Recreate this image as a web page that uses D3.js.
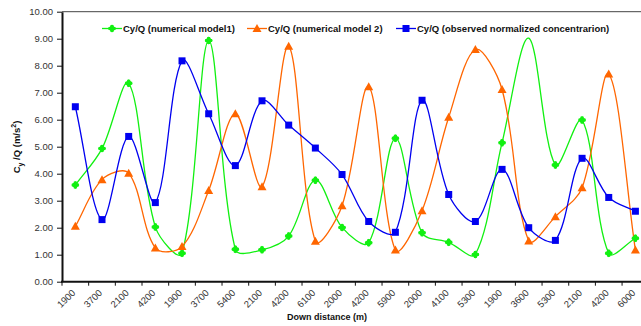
<!DOCTYPE html>
<html>
<head>
<meta charset="utf-8">
<script src="https://cdn.jsdelivr.net/npm/d3@7"></script>
<style>
  body { margin: 0; background: #fff; }
  svg { display: block; font-family: "Liberation Sans", Arial, sans-serif; }
</style>
</head>
<body>
<div id="chart"></div>
<script>
const distances = ['1900', '3700', '2100', '4200', '1900', '3700', '5400', '2100', '4200', '6100', '2000',
  '4200', '5900', '2000', '4100', '5300', '1900', '3600', '5300', '2100', '4200', '6000'];

const model1 = [3.58, 4.93, 7.35, 2.03, 1.05, 8.93, 1.2, 1.18, 1.69, 3.76, 2.01,
  1.44, 5.31, 1.81, 1.46, 1.01, 5.15, 9.02, 4.32, 5.99, 1.05, 1.61];
const model2 = [2.05, 3.78, 4.02, 1.25, 1.3, 3.38, 6.22, 3.52, 8.72, 1.5, 2.81,
  7.22, 1.17, 2.63, 6.09, 8.6, 7.12, 1.51, 2.41, 3.48, 7.69, 1.17];
const observed = [6.48, 2.3, 5.38, 2.93, 8.18, 6.22, 4.3, 6.7, 5.8, 4.95, 3.97,
  2.23, 1.83, 6.72, 3.23, 2.23, 4.16, 2.0, 1.53, 4.57, 3.12, 2.61];

const yTicks = [0, 1, 2, 3, 4, 5, 6, 7, 8, 9, 10];

const series = [
  { name: 'Cy/Q (numerical model1)', values: model1, color: '#11f011', shape: 'diamond' },
  { name: 'Cy/Q (numerical model 2)', values: model2, color: '#ff6600', shape: 'triangle' },
  { name: 'Cy/Q (observed normalized concentrarion)', values: observed, color: '#0000f0', shape: 'square' }
];

const width = 641, height = 326;
const margin = { left: 62, top: 11.7, bottom: 281.7 };
const plotRight = margin.left + distances.length * 26.67;

// spreadsheet-style smoothing: bezier handles scaled by neighbouring chord lengths
function SmoothCurve(context) { this._context = context; }
SmoothCurve.prototype = {
  areaStart() {}, areaEnd() {},
  lineStart() { this._pts = []; },
  point(px, py) { this._pts.push([+px, +py]); },
  lineEnd() {
    const p = this._pts, ctx = this._context, n = p.length;
    if (!n) return;
    const dist = (a, b) => Math.hypot(b[0] - a[0], b[1] - a[1]);
    ctx.moveTo(p[0][0], p[0][1]);
    for (let i = 0; i < n - 1; i++) {
      const p0 = p[Math.max(i - 1, 0)], p1 = p[i], p2 = p[i + 1], p3 = p[Math.min(i + 2, n - 1)];
      const d01 = dist(p0, p1), d12 = dist(p1, p2), d23 = dist(p2, p3);
      const s1 = d12 / (d01 + d12) / 3;
      const s2 = d12 / (d12 + d23) / 3;
      ctx.bezierCurveTo(
        p1[0] + (p2[0] - p0[0]) * s1, p1[1] + (p2[1] - p0[1]) * s1,
        p2[0] - (p3[0] - p1[0]) * s2, p2[1] - (p3[1] - p1[1]) * s2,
        p2[0], p2[1]);
    }
  }
};

const svg = d3.select('#chart').append('svg')
  .attr('width', width)
  .attr('height', height);

const x = d3.scaleBand()
  .domain(d3.range(distances.length))
  .range([margin.left, plotRight])
  .padding(0);

const y = d3.scaleLinear()
  .domain([0, 10])
  .range([margin.bottom, margin.top]);

const cx = i => x(i) + x.bandwidth() / 2;

// plot area top border
svg.append('line')
  .attr('x1', margin.left).attr('x2', plotRight)
  .attr('y1', margin.top).attr('y2', margin.top)
  .attr('stroke', '#444').attr('stroke-width', 1);

// y axis
const yAxis = svg.append('g')
  .attr('transform', `translate(${margin.left},0)`)
  .call(d3.axisLeft(y).tickValues(yTicks).tickFormat(d3.format('.2f')).tickSize(5).tickSizeOuter(0));
yAxis.select('.domain').attr('stroke', '#111').attr('stroke-width', 2);
yAxis.selectAll('.tick line').attr('stroke', '#111').attr('stroke-width', 1);
yAxis.selectAll('.tick text')
  .attr('x', -9)
  .attr('font-size', 9.5)
  .attr('font-family', '"Liberation Sans", Arial, sans-serif')
  .attr('fill', '#333');

// x axis
const xAxis = svg.append('g')
  .attr('transform', `translate(0,${margin.bottom})`);
xAxis.append('line')
  .attr('x1', margin.left - 1).attr('x2', plotRight)
  .attr('stroke', '#111').attr('stroke-width', 2);
xAxis.selectAll('.xtick')
  .data(d3.range(distances.length + 1))
  .join('line')
  .attr('class', 'xtick')
  .attr('x1', d => margin.left + d * x.bandwidth())
  .attr('x2', d => margin.left + d * x.bandwidth())
  .attr('y1', 0).attr('y2', 4)
  .attr('stroke', '#111');
xAxis.selectAll('.xlabel')
  .data(distances)
  .join('text')
  .attr('class', 'xlabel')
  .attr('transform', (d, i) => `translate(${cx(i) - 4},${7}) rotate(-45)`)
  .attr('text-anchor', 'end')
  .attr('dy', '0.7em')
  .attr('font-size', 9.5)
  .attr('fill', '#333')
  .text(d => d);

// axis titles
svg.append('text')
  .attr('x', 327).attr('y', 320)
  .attr('text-anchor', 'middle')
  .attr('font-size', 9)
  .attr('font-weight', 'bold')
  .attr('fill', '#111')
  .text('Down distance (m)');

const yTitle = svg.append('text')
  .attr('transform', 'translate(20,147) rotate(-90)')
  .attr('text-anchor', 'middle')
  .attr('font-size', 9.5)
  .attr('font-weight', 'bold')
  .attr('fill', '#111');
yTitle.append('tspan').text('C');
yTitle.append('tspan').attr('font-size', 7).attr('dy', 3).text('y');
yTitle.append('tspan').attr('dy', -3).text(' /Q (m/s');
yTitle.append('tspan').attr('font-size', 7).attr('dy', -4).text('2');
yTitle.append('tspan').attr('dy', 4).text(')');

// markers
function drawMarker(g, shape, color) {
  if (shape === 'square') {
    g.append('rect').attr('x', -3.5).attr('y', -3.5).attr('width', 7).attr('height', 7).attr('fill', color);
  } else if (shape === 'triangle') {
    g.append('path').attr('d', 'M0,-4.5L4.5,3.5L-4.5,3.5Z').attr('fill', color);
  } else {
    g.append('path').attr('d', 'M0,-4L4,0L0,4L-4,0Z').attr('fill', color);
    g.append('path').attr('d', 'M-1.5,-3.5h3v7h-3z M-3.5,-1.5h7v3h-7z').attr('fill', color);
  }
}

const line = d3.line()
  .x((d, i) => cx(i))
  .y(d => y(d))
  .curve(ctx => new SmoothCurve(ctx));

series.forEach(s => {
  svg.append('path')
    .datum(s.values)
    .attr('d', line)
    .attr('fill', 'none')
    .attr('stroke', s.color)
    .attr('stroke-width', 1.3);
});

series.forEach(s => {
  s.values.forEach((v, i) => {
    // the peak of model1 at 3600 m has no marker in the original
    if (s.shape === 'diamond' && i === 17) return;
    const g = svg.append('g').attr('transform', `translate(${cx(i)},${y(v)})`);
    drawMarker(g, s.shape, s.color);
  });
});

// legend
const legendX = [102, 247, 396];
const legend = svg.append('g');
series.forEach((s, i) => {
  const g = legend.append('g').attr('transform', `translate(${legendX[i]},28.5)`);
  g.append('line').attr('x1', 0).attr('x2', 20).attr('stroke', s.color).attr('stroke-width', 1.3);
  const m = g.append('g').attr('transform', 'translate(10,0)');
  drawMarker(m, s.shape, s.color);
  g.append('text')
    .attr('x', 21).attr('y', 3.5)
    .attr('font-size', 9.5)
    .attr('font-weight', 'bold')
    .attr('fill', '#111')
    .text(s.name);
});
</script>
</body>
</html>
